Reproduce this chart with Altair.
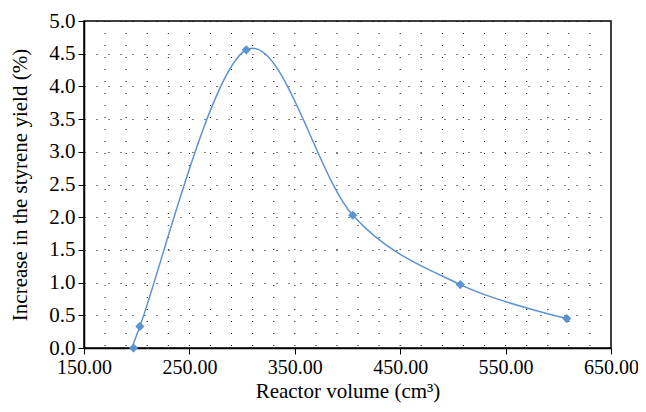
import altair as alt
import pandas as pd

volume = [197, 203, 304, 405, 507, 608]
increase = [0.0, 0.33, 4.56, 2.03, 0.97, 0.45]
x_ticks = [150, 250, 350, 450, 550, 650]
y_ticks = [0.0, 0.5, 1.0, 1.5, 2.0, 2.5, 3.0, 3.5, 4.0, 4.5, 5.0]
x_grid = list(range(170, 650, 20))

df = pd.DataFrame({"v": volume, "y": increase})
gdf = pd.DataFrame({"g": x_grid})

FONT = "Liberation Serif"
COLOR = "#5b93d3"

xscale = alt.Scale(domain=[150, 650], nice=False, zero=False)
yscale = alt.Scale(domain=[0, 5], nice=False)
xaxis = alt.Axis(values=x_ticks, format=".2f", title="Reactor volume (cm³)",
                 grid=False, tickSize=6, titlePadding=3, labelPadding=3,
                 labelOverlap=False, labelFlush=False, labelFontSize=20)
yaxis = alt.Axis(values=y_ticks, format=".1f",
                 title="Increase in the styrene yield (%)",
                 grid=True, gridDash=[1, 11], gridColor="black", gridOpacity=1,
                 tickSize=6, titlePadding=18, labelPadding=3,
                 labelOverlap=False, labelFlush=False)

grid = alt.Chart(gdf).mark_rule(color="black", strokeWidth=1, strokeDash=[1, 11]).encode(
    x=alt.X("g:Q", scale=xscale, axis=xaxis)
)

line = alt.Chart(df).mark_line(color=COLOR, strokeWidth=1.5, interpolate="cardinal", clip=True).encode(
    x=alt.X("v:Q", scale=xscale, axis=xaxis),
    y=alt.Y("y:Q", scale=yscale, axis=yaxis),
)

pts = alt.Chart(df).mark_point(shape="diamond", filled=True, size=85, color=COLOR, opacity=1).encode(
    x=alt.X("v:Q", scale=xscale, axis=xaxis),
    y=alt.Y("y:Q", scale=yscale, axis=yaxis),
)

chart = alt.layer(grid, line, pts).properties(
    width=527, height=327,
    background="white",
    autosize=alt.AutoSizeParams(type="none"),
    padding={"left": 76, "top": 13, "right": 27, "bottom": 56},
).configure_view(stroke="black", strokeWidth=1.5).configure_axis(
    labelFont=FONT, titleFont=FONT, labelFontSize=21, titleFontSize=21,
    labelColor="black", titleColor="black", titleFontWeight="normal",
    domainColor="black", tickColor="black", domainWidth=1.5,
)

chart.save("out.html", embed_options={"renderer": "svg", "actions": False})
